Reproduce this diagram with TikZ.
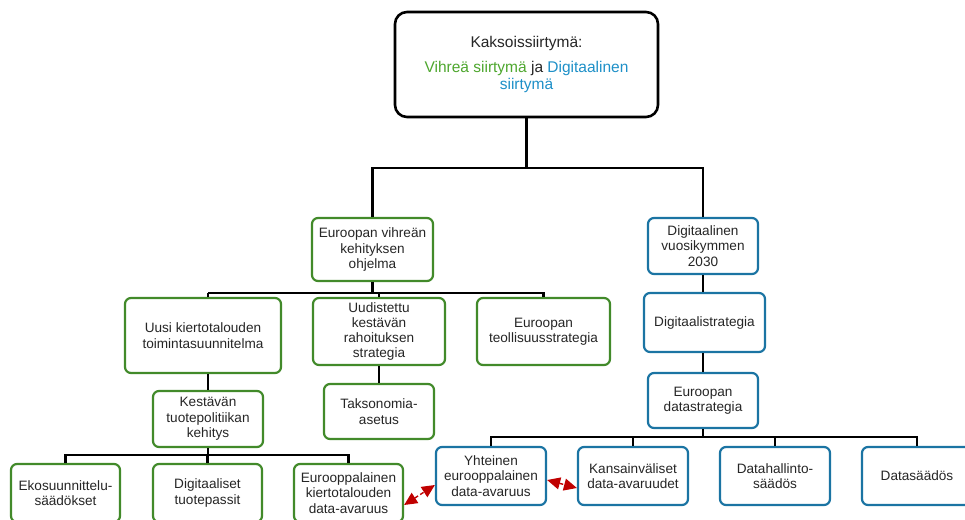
\documentclass[tikz,border=0pt]{standalone}
\usepackage{fontspec}
\setmainfont{Liberation Sans}
\usetikzlibrary{arrows.meta}
\definecolor{grnb}{HTML}{428A2A}
\definecolor{grnt}{HTML}{4EA72E}
\definecolor{blub}{HTML}{1B74A3}
\definecolor{blut}{HTML}{1E90C8}
\definecolor{arr}{HTML}{C00000}
\tikzset{
  base/.style={rounded corners=6pt, line width=2.2pt, fill=white, align=center, inner sep=1pt,
    font=\fontsize{13.6}{15.5}\selectfont, text=black!85},
  gbox/.style={base, draw=grnb},
  bbox/.style={base, draw=blub},
  conn/.style={line width=2.4pt, black},
  rel/.style={arr, line width=1.4pt, dashed, dash pattern=on 4pt off 2.5pt,
    {Triangle[length=13pt,width=12pt]}-{Triangle[length=13pt,width=12pt]}},
}
\begin{document}
\begin{tikzpicture}[x=1pt,y=-1pt]
\useasboundingbox (0,0) rectangle (965,519);
% top
\node[base, draw=black, line width=2.6pt, rounded corners=12pt, minimum width=263pt, minimum height=105pt,
  font=\fontsize{15.5}{17.5}\selectfont] (top) at (526.5,64.5)
  {Kaksoissiirtymä:\\[7pt]\textcolor{grnt}{Vihreä siirtymä} ja \textcolor{blut}{Digitaalinen}\\\textcolor{blut}{siirtymä}};
% green branch
\node[gbox, minimum width=121pt, minimum height=63pt] (evk) at (372.5,249.5) {Euroopan vihreän\\kehityksen\\ohjelma};
\node[gbox, minimum width=156pt, minimum height=75pt] (uusi) at (203,335.5) {Uusi kiertotalouden\\toimintasuunnitelma};
\node[gbox, minimum width=132pt, minimum height=67pt, font=\fontsize{13.6}{14.8}\selectfont] (uud) at (379,331.5) {Uudistettu\\kestävän\\rahoituksen\\strategia};
\node[gbox, minimum width=133pt, minimum height=67pt] (teol) at (543.5,331.5) {Euroopan\\teollisuusstrategia};
\node[gbox, minimum width=110pt, minimum height=56pt] (kest) at (208,419) {Kestävän\\tuotepolitiikan\\kehitys};
\node[gbox, minimum width=110pt, minimum height=55pt] (taks) at (379,411.5) {Taksonomia-\\asetus};
\node[gbox, minimum width=109pt, minimum height=58pt] (eko) at (65.5,493) {Ekosuunnittelu-\\säädökset};
\node[gbox, minimum width=109pt, minimum height=58pt] (dtp) at (207.5,493) {Digitaaliset\\tuotepassit};
\node[gbox, minimum width=109pt, minimum height=58pt] (ekd) at (348.5,493) {Eurooppalainen\\kiertotalouden\\data-avaruus};
% blue branch
\node[bbox, minimum width=110pt, minimum height=56pt] (dv) at (703,246) {Digitaalinen\\vuosikymmen\\2030};
\node[bbox, minimum width=121pt, minimum height=59pt] (ds) at (704.5,322.5) {Digitaalistrategia};
\node[bbox, minimum width=110pt, minimum height=55pt] (eds) at (703,400.5) {Euroopan\\datastrategia};
\node[bbox, minimum width=110pt, minimum height=58pt] (yht) at (491,476) {Yhteinen\\eurooppalainen\\data-avaruus};
\node[bbox, minimum width=110pt, minimum height=58pt] (kans) at (633,476) {Kansainväliset\\data-avaruudet};
\node[bbox, minimum width=110pt, minimum height=58pt] (dh) at (775,476) {Datahallinto-\\säädös};
\node[bbox, minimum width=110pt, minimum height=58pt] (dsa) at (917,476) {Datasäädös};
% connectors
\coordinate (j1) at (526.5,168);
\draw[conn] (top.south) -- (j1);
\draw[conn] (evk.north) |- (j1) -| (dv.north);
\coordinate (j2) at (372.5,293);
\draw[conn] (evk.south) -- (j2);
\draw[conn] (kest.north |- j2) -- (kest.north |- uusi.north);
\draw[conn] (kest.north |- j2) -- (teol.north |- j2) -- (teol.north);
\draw[conn] (uud.north |- j2) -- (uud.north);
\draw[conn] (kest.north) -- (kest.north |- uusi.south);
\draw[conn] (uud.south) -- (taks.north);
\coordinate (j3) at (208,455);
\draw[conn] (kest.south) -- (j3);
\draw[conn] (eko.north) |- (j3) -| (ekd.north);
\draw[conn] (dtp.north) -- (dtp.north |- j3);
\draw[conn] (dv.south) -- (dv.south |- ds.north);
\draw[conn] (eds.north |- ds.south) -- (eds.north);
\coordinate (j4) at (703,437);
\draw[conn] (eds.south) -- (j4);
\draw[conn] (yht.north) |- (j4) -| (dsa.north);
\draw[conn] (kans.north) -- (kans.north |- j4);
\draw[conn] (dh.north) -- (dh.north |- j4);
% relations
\draw[rel] ([yshift=-12pt]ekd.east) -- ([yshift=-9pt]yht.west);
\draw[rel] ([yshift=-4pt]yht.east) -- ([yshift=-12pt]kans.west);
\end{tikzpicture}
\end{document}
